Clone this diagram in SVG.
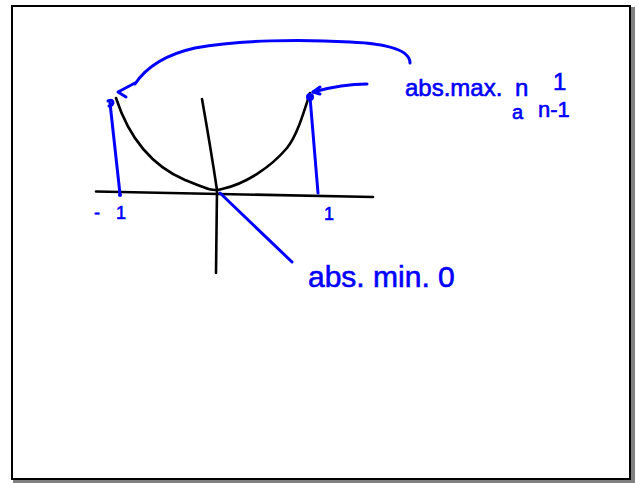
<svg xmlns="http://www.w3.org/2000/svg" width="639" height="483" viewBox="0 0 639 483">
<style>
.ink{fill:none;stroke-linecap:round;stroke-linejoin:round}
.k{stroke:#000;stroke-width:2.6}
.b{stroke:#0000ff;stroke-width:3}
.t{font-family:"Liberation Sans","DejaVu Sans",sans-serif;fill:#0000ff;stroke:#0000ff;stroke-width:0.6}
</style>
<rect width="639" height="483" fill="#fff"/>
<g id="frame">
<rect x="15" y="9" width="618" height="473" fill="none" stroke="#808080" stroke-width="4"/>
<rect x="12" y="6" width="618" height="473" fill="#fff" stroke="#000" stroke-width="2"/>
</g>
<g id="axes" class="ink k">
<path d="M96,191.5 L373,197"/>
<path d="M202,99 Q211,150 217,190 L216,273"/>
</g>
<g id="curve" class="ink k">
<path d="M116,98 C128,135 150,165 185,180 C205,188 212,192 222,189 C245,184 270,168 287,148 C297,135 303,115 310,93"/>
</g>
<g id="connectors" class="ink b">
<path d="M110,103 L120,194"/>
<path d="M108,101 Q113,99 113,103 Q112,106 109,106"/>
<path d="M310,97 L318,193"/>
<path d="M410,63 C410,52 395,44 350,42 C300,39 240,40 195,48 C168,54 147,66 135,84"/>
<path d="M135,83 L118,92 L126,97"/>
<path d="M367,84 C350,84 335,86 313,92"/>
<path d="M320,87 L313,92 L320,94"/>
<path d="M220,193 L292,262"/>
</g>
<g id="dots" fill="#0000ff">
<circle cx="120" cy="195" r="2"/>
<circle cx="310" cy="97" r="4"/>
</g>
<g id="label-neg1"><text class="t" y="219" font-size="18"><tspan x="94">-</tspan><tspan x="116">1</tspan></text></g>
<g id="label-1"><text class="t" x="324" y="220" font-size="18">1</text></g>
<g id="label-max">
<text class="t" x="405" y="96" font-size="24">abs.max.</text>
<text class="t" x="515" y="96" font-size="24">n</text>
<text class="t" x="553" y="90" font-size="24">1</text>
<text class="t" x="512" y="119" font-size="20">a</text>
<text class="t" x="538" y="117" font-size="22">n-1</text>
</g>
<g id="label-min"><text class="t" x="308" y="287" font-size="30">abs. min. 0</text></g>
</svg>
